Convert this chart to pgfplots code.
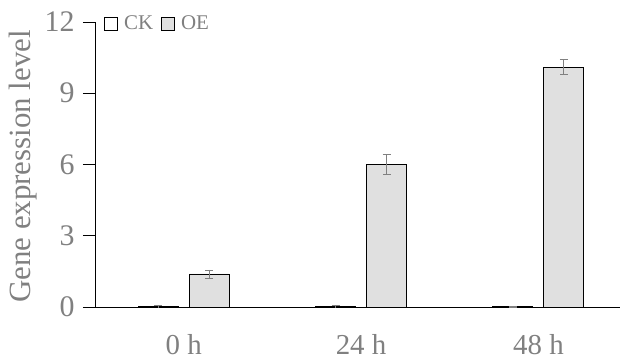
\documentclass[border=0pt]{standalone}
\usepackage{fontspec}
\setmainfont{Liberation Serif}
\usepackage{pgfplots}
\pgfplotsset{compat=1.18}
\definecolor{txtgray}{RGB}{128,128,128}
\definecolor{barfill}{RGB}{224,224,224}
\begin{document}
\begin{tikzpicture}
\begin{axis}[
  scale only axis, width=525bp, height=285bp,
  xmin=-0.5, xmax=2.46, ymin=0, ymax=12,
  ytick={0,3,6,9,12}, xtick={0,1,2}, xticklabels={0 h,24 h,48 h},
  axis x line*=bottom, axis y line*=left,
  axis line style={black, line width=0.9bp, -},
  x tick style={draw=none}, y tick style={black, line width=0.9bp},
  tick align=outside, major tick length=12bp,
  tick label style={font=\fontsize{30}{32}\selectfont, text=txtgray},
  /pgf/number format/assume math mode=true,
  yticklabel style={xshift=-5bp},
  xticklabel style={inner sep=0pt, yshift=-15bp, font=\fontsize{29}{30}\selectfont},
  ylabel={Gene expression level},
  ylabel style={at={(rel axis cs:0,0.5)}, anchor=center, yshift=72bp, xshift=-2bp,
    font=\fontsize{31}{34}\selectfont, text=txtgray},
  ybar, bar width=40bp,
  legend columns=2,
  legend style={draw=none, fill=none, inner sep=0pt, at={(rel axis cs:0,1)}, anchor=west,
    xshift=9bp, yshift=-1.5bp,
    font=\fontsize{21}{22}\selectfont, text=txtgray,
    /tikz/every odd column/.append style={column sep=4bp},
    /tikz/every even column/.append style={column sep=6bp}},
  legend image code/.code={\draw[#1] (0bp,-6.5bp) rectangle (13bp,6.5bp);},
]
\addplot[draw=black, fill=white, line width=0.9bp, bar shift=-25.5bp,
  error bars/.cd, y dir=both, y explicit,
  error bar style={txtgray, line width=0.9bp},
  error mark options={rotate=90, mark size=4bp, txtgray, line width=0.9bp}]
  coordinates {(0,0.02) +- (0,0.06) (1,0.02) +- (0,0.06) (2,0.01) +- (0,0.02)};
\addplot[draw=black, fill=barfill, line width=0.9bp, bar shift=25.5bp,
  error bars/.cd, y dir=both, y explicit,
  error bar style={txtgray, line width=0.9bp},
  error mark options={rotate=90, mark size=4bp, txtgray, line width=0.9bp}]
  coordinates {(0,1.39) +- (0,0.17) (1,6.01) +- (0,0.42) (2,10.1) +- (0,0.32)};
\legend{CK,OE}
\end{axis}
\pgfresetboundingbox
\useasboundingbox (-95bp,-52bp) rectangle (525bp,307bp);
\end{tikzpicture}
\end{document}
